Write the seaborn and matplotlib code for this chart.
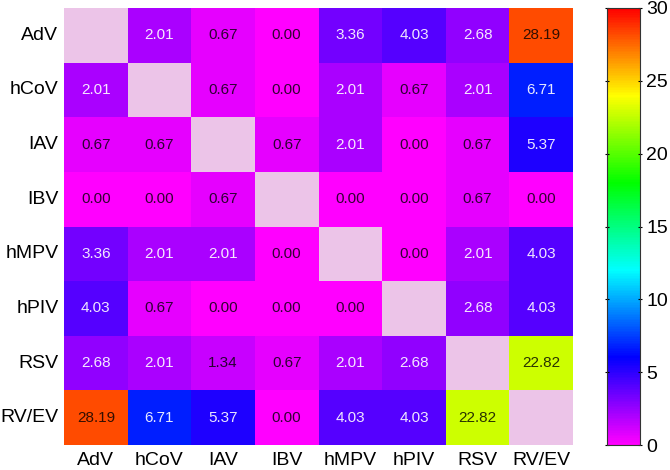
import numpy as np
import pandas as pd
import matplotlib
matplotlib.use('Agg')
import matplotlib.pyplot as plt
from matplotlib.colors import LinearSegmentedColormap
import seaborn as sns

viruses = ['AdV', 'hCoV', 'IAV', 'IBV', 'hMPV', 'hPIV', 'RSV', 'RV/EV']
nan = np.nan
adv = [nan, 2.01, 0.67, 0.00, 3.36, 4.03, 2.68, 28.19]
hcov = [2.01, nan, 0.67, 0.00, 2.01, 0.67, 2.01, 6.71]
iav = [0.67, 0.67, nan, 0.67, 2.01, 0.00, 0.67, 5.37]
ibv = [0.00, 0.00, 0.67, nan, 0.00, 0.00, 0.67, 0.00]
hmpv = [3.36, 2.01, 2.01, 0.00, nan, 0.00, 2.01, 4.03]
hpiv = [4.03, 0.67, 0.00, 0.00, 0.00, nan, 2.68, 4.03]
rsv = [2.68, 2.01, 1.34, 0.67, 2.01, 2.68, nan, 22.82]
rvev = [28.19, 6.71, 5.37, 0.00, 4.03, 4.03, 22.82, nan]

df = pd.DataFrame([adv, hcov, iav, ibv, hmpv, hpiv, rsv, rvev],
                  index=viruses, columns=viruses)

plt.rcParams['font.family'] = ['Liberation Sans', 'DejaVu Sans']

cmap = LinearSegmentedColormap.from_list(
    'magenta_red', ['#ff00ff', '#0000ff', '#00ffff', '#00ff00', '#ffff00', '#ff0000'])

fig = plt.figure(figsize=(6.7, 4.7), dpi=100)
ax = fig.add_axes([64/670, 25/470, 509/670, 437/470])
cax = fig.add_axes([607/670, 25/470, 33/670, 437/470])

sns.heatmap(df, ax=ax, cbar_ax=cax, cmap=cmap, vmin=0, vmax=30,
            annot=True, fmt='.2f', annot_kws={'size': 11})
ax.set_facecolor('#ecc4e8')

# light text on the purple/blue cells, dark elsewhere
for t in ax.texts:
    v = float(t.get_text())
    if 2 <= v <= 15:
        t.set_color('white')
        t.set_alpha(0.9)
    else:
        t.set_color('black')
        t.set_alpha(0.8)

ax.tick_params(axis='y', length=0, labelsize=14, pad=4)
ax.tick_params(axis='x', length=0, labelsize=14, pad=5)
ax.set_yticklabels(viruses, rotation=0)
ax.set_xticklabels(viruses, rotation=0)
ax.set_xlabel('')
ax.set_ylabel('')

cax.set_yticks([0, 5, 10, 15, 20, 25, 30])
cax.tick_params(labelsize=14, length=3, width=0.8, direction='inout', pad=3,
                left=True)
cb = ax.collections[0].colorbar
cb.outline.set_visible(True)
cb.outline.set_edgecolor('#333333')
cb.outline.set_linewidth(0.8)

fig.savefig('out.png', dpi=100)
